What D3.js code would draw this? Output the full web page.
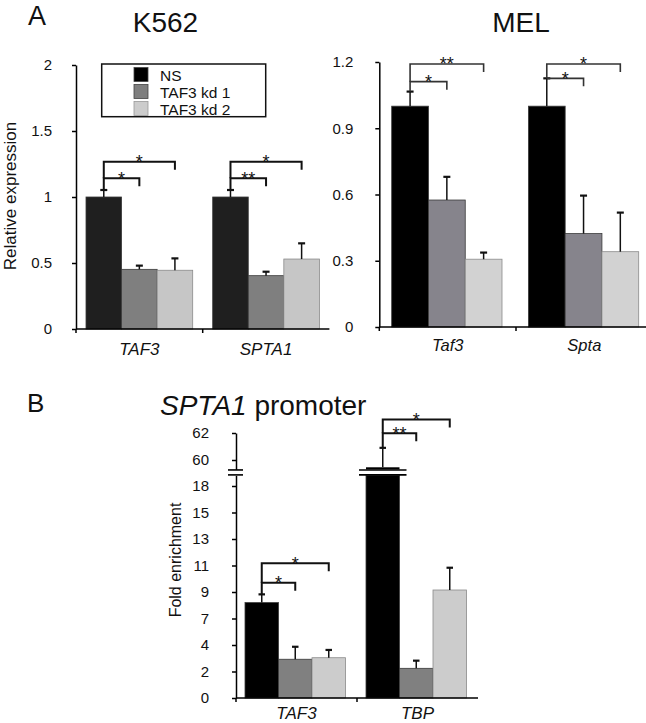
<!DOCTYPE html>
<html>
<head>
<meta charset="utf-8">
<script src="https://cdn.jsdelivr.net/npm/d3@7"></script>
<style>
  body { margin: 0; background: #fff; }
  svg { display: block; font-family: "Liberation Sans", Arial, sans-serif; }
</style>
</head>
<body>
<script>
// series shared by every panel
const groups = ['NS', 'TAF3 kd 1', 'TAF3 kd 2'];

// A, K562
const k562Genes = ['TAF3', 'SPTA1'];
const k562Values = [[1.00, 0.452, 0.445], [1.00, 0.404, 0.530]];
const k562Errors = [[0.053, 0.028, 0.090], [0.053, 0.030, 0.119]];
const k562Ticks = [0, 0.5, 1, 1.5, 2];
const k562Stars = [['*', '*'], ['**', '*']];      // NS vs kd1, NS vs kd2
const k562StarLevels = [[1.142, 1.267], [1.142, 1.267]];

// A, MEL
const melGenes = ['Taf3', 'Spta'];
const melValues = [[1.00, 0.575, 0.307], [1.00, 0.423, 0.341]];
const melErrors = [[0.066, 0.105, 0.030], [0.126, 0.172, 0.177]];
const melTicks = [0, 0.3, 0.6, 0.9, 1.2];
const melStars = [['*', '**'], ['*', '*']];
const melStarLevels = [[1.111, 1.191], [1.126, 1.191]];

// B, SPTA1 promoter ChIP
const chipTargets = ['TAF3', 'TBP'];
const chipValues = [[8.10, 3.29, 3.42], [59.46, 2.52, 9.17]];
const chipErrors = [[0.70, 1.06, 0.66], [1.44, 0.65, 1.89]];
const chipLowTicks = [0, 2.25, 4.5, 6.75, 9, 11.25, 13.5, 15.75, 18];
const chipLowLabels = ['0', '2', '4', '7', '9', '11', '13', '15', '18'];
const chipHighTicks = [60, 62];
const chipStars = [['*', '*'], ['**', '*']];
const chipStarLevels = [[9.79, 11.44], [61.98, 63.0]];

const W = 646, H = 723;
const svg = d3.select('body').append('svg').attr('width', W).attr('height', H);

function text(g, x, y, s, size, opts = {}) {
  return g.append('text')
    .attr('x', x).attr('y', y)
    .attr('font-size', size)
    .attr('text-anchor', opts.anchor || 'middle')
    .attr('font-style', opts.italic ? 'italic' : null)
    .attr('fill', '#111')
    .text(s);
}

function yAxis(g, y, ticks, x0, pad, labels) {
  const ax = d3.axisLeft(y).tickValues(ticks).tickSize(4).tickSizeOuter(0).tickPadding(pad)
    .tickFormat(labels ? (d, i) => labels[i] : d3.format(''));
  const a = g.append('g').attr('transform', `translate(${x0},0)`).call(ax);
  a.attr('font-family', null).attr('font-size', 15);
  a.selectAll('text').attr('fill', '#111');
  a.selectAll('path, line').attr('stroke', '#000').attr('stroke-width', 1.5);
  return a;
}

function xAxis(g, x, y0, genes, labelY, size) {
  const [a, b] = x.range();
  g.append('line').attr('x1', a).attr('x2', b).attr('y1', y0).attr('y2', y0)
    .attr('stroke', '#000').attr('stroke-width', 1.5);
  genes.forEach(gn => {
    g.append('line').attr('x1', x(gn)).attr('x2', x(gn)).attr('y1', y0).attr('y2', y0 + 4)
      .attr('stroke', '#000').attr('stroke-width', 1.5);
    text(g, x(gn) + x.bandwidth() / 2, labelY, gn, size, { italic: true });
  });
}

function drawBars(g, genes, values, colors, x, xi, y) {
  genes.forEach((gn, i) => {
    values[i].forEach((v, k) => {
      g.append('rect')
        .attr('x', x(gn) + xi(groups[k]))
        .attr('width', xi.bandwidth())
        .attr('y', y(v))
        .attr('height', y(0) - y(v))
        .attr('fill', colors[k])
        .attr('stroke', k === 2 ? '#8a8a8a' : '#3a3a3a')
        .attr('stroke-width', 0.8);
    });
  });
}

function drawErrors(g, genes, values, errors, x, xi, y, cap) {
  genes.forEach((gn, i) => {
    values[i].forEach((v, k) => {
      const cx = x(gn) + xi(groups[k]) + xi.bandwidth() / 2;
      g.append('line').attr('x1', cx).attr('x2', cx)
        .attr('y1', y(v)).attr('y2', y(v + errors[i][k]))
        .attr('stroke', '#111').attr('stroke-width', 1.5);
      g.append('line').attr('x1', cx - cap / 2).attr('x2', cx + cap / 2)
        .attr('y1', y(v + errors[i][k])).attr('y2', y(v + errors[i][k]))
        .attr('stroke', '#111').attr('stroke-width', 2.2);
    });
  });
}

function drawStars(g, genes, values, errors, stars, levels, x, xi, y, color, lw) {
  genes.forEach((gn, i) => {
    const cx = k => x(gn) + xi(groups[k]) + xi.bandwidth() / 2;
    [1, 2].forEach(k => {
      const ly = y(levels[i][k - 1]);
      const legBottom = k === 1 ? y(values[i][0] + errors[i][0]) : y(levels[i][0]);
      const path = d3.path();
      path.moveTo(cx(0), legBottom);
      path.lineTo(cx(0), ly);
      path.lineTo(cx(k), ly);
      path.lineTo(cx(k), ly + 8);
      g.append('path').attr('d', path.toString()).attr('fill', 'none')
        .attr('stroke', color).attr('stroke-width', lw);
      text(g, (cx(0) + cx(k)) / 2, ly + 6.5, stars[i][k - 1], 18);
    });
  });
}

// ---------------- A: K562 ----------------
{
  const g = svg.append('g');
  const y = d3.scaleLinear([0, 2], [329, 65]);
  const x = d3.scaleBand(k562Genes, [76, 329.4]);
  const xi = d3.scaleBand(groups, [10, x.bandwidth() - 10]);
  const colors = ['#1f1f1f', '#7f7f7f', '#c6c6c6'];

  text(g, 28, 25, 'A', 27, { anchor: 'start' });
  text(g, 165.5, 32, 'K562', 28);
  drawBars(g, k562Genes, k562Values, colors, x, xi, y);
  drawErrors(g, k562Genes, k562Values, k562Errors, x, xi, y, 7);
  yAxis(g, y, k562Ticks, 76, 20);
  xAxis(g, x, 329, k562Genes, 355, 17);
  drawStars(g, k562Genes, k562Values, k562Errors, k562Stars, k562StarLevels, x, xi, y, '#111', 2);

  g.append('text').attr('transform', 'translate(16,196) rotate(-90)')
    .attr('text-anchor', 'middle').attr('font-size', 17).attr('fill', '#111')
    .text('Relative expression');

  // legend
  const lg = g.append('g');
  lg.append('rect').attr('x', 101.7).attr('y', 64).attr('width', 164).attr('height', 52.7)
    .attr('fill', '#fff').attr('stroke', '#111').attr('stroke-width', 1.5);
  const legendColors = ['#000000', '#7f7f7f', '#cccccc'];
  groups.forEach((s, k) => {
    lg.append('rect').attr('x', 134).attr('y', 67.5 + k * 17).attr('width', 14).attr('height', 14)
      .attr('fill', legendColors[k]).attr('stroke', k === 2 ? '#999' : '#444').attr('stroke-width', 0.8);
    text(lg, 160, 80.5 + k * 17, s, 15.5, { anchor: 'start' });
  });
}

// ---------------- A: MEL ----------------
{
  const g = svg.append('g');
  const y = d3.scaleLinear([0, 1.2], [327, 62]);
  const x = d3.scaleBand(melGenes, [379.3, 652.7]);
  const xi = d3.scaleBand(groups, [12.4, x.bandwidth() - 14]);
  const colors = ['#000000', '#86848c', '#d2d2d2'];

  text(g, 521, 32, 'MEL', 28);
  drawBars(g, melGenes, melValues, colors, x, xi, y);
  drawErrors(g, melGenes, melValues, melErrors, x, xi, y, 7);
  yAxis(g, y, melTicks, 379.3, 22);
  xAxis(g, x, 327, melGenes, 351, 16.5);
  drawStars(g, melGenes, melValues, melErrors, melStars, melStarLevels, x, xi, y, '#333', 1.6);
}

// ---------------- B: SPTA1 promoter ----------------
{
  const g = svg.append('g');
  const yLow = d3.scaleLinear([0, 18.9], [698, 475.4]);
  const yHigh = d3.scaleLinear([59.3, 62], [469.45, 433]);
  const lowMax = yLow.domain()[1];
  const y = v => (v <= lowMax ? yLow(v) : yHigh(v));
  const x = d3.scaleBand(chipTargets, [236, 478]);
  const xi = d3.scaleBand(groups, [9, x.bandwidth() - 11.5]);
  const colors = ['#000000', '#808080', '#cccccc'];

  text(g, 27, 412, 'B', 26, { anchor: 'start' });
  const title = text(g, 160, 415, '', 28, { anchor: 'start' });
  title.append('tspan').attr('font-style', 'italic').text('SPTA1');
  title.append('tspan').text(' promoter');

  // bars: values above the break are drawn as a lower stump plus a short upper piece
  chipTargets.forEach((gn, i) => {
    chipValues[i].forEach((v, k) => {
      const bx = x(gn) + xi(groups[k]);
      const stroke = k === 2 ? '#8a8a8a' : '#3a3a3a';
      const lowTop = yLow(Math.min(v, lowMax));
      g.append('rect').attr('x', bx).attr('width', xi.bandwidth())
        .attr('y', lowTop).attr('height', yLow(0) - lowTop)
        .attr('fill', colors[k]).attr('stroke', stroke).attr('stroke-width', 0.8);
      if (v > lowMax) {
        const hb = yHigh.domain()[0];
        g.append('rect').attr('x', bx).attr('width', xi.bandwidth())
          .attr('y', yHigh(v)).attr('height', yHigh(hb) - yHigh(v))
          .attr('fill', colors[k]);
        // break marks across the bar
        [yHigh(hb) + 0.5, yLow(lowMax) - 0.5].forEach(by => {
          g.append('line').attr('x1', bx - 7).attr('x2', bx + xi.bandwidth() + 7)
            .attr('y1', by).attr('y2', by).attr('stroke', '#000').attr('stroke-width', 1.6);
        });
      }
    });
  });
  drawErrors(g, chipTargets, chipValues, chipErrors, x, xi, y, 6.5);

  yAxis(g, yLow, chipLowTicks, 236, 23, chipLowLabels);
  yAxis(g, yHigh, chipHighTicks, 236, 23);
  // axis break marks
  [yHigh(yHigh.domain()[0]) + 0.5, yLow(lowMax) - 0.5].forEach(by => {
    g.append('line').attr('x1', 228).attr('x2', 243).attr('y1', by).attr('y2', by)
      .attr('stroke', '#000').attr('stroke-width', 1.6);
  });
  xAxis(g, x, 698, chipTargets, 719, 17);
  drawStars(g, chipTargets, chipValues, chipErrors, chipStars, chipStarLevels, x, xi, y, '#111', 2);

  g.append('text').attr('transform', 'translate(181,560) rotate(-90)')
    .attr('text-anchor', 'middle').attr('font-size', 16).attr('fill', '#111')
    .text('Fold enrichment');
}
</script>
</body>
</html>
